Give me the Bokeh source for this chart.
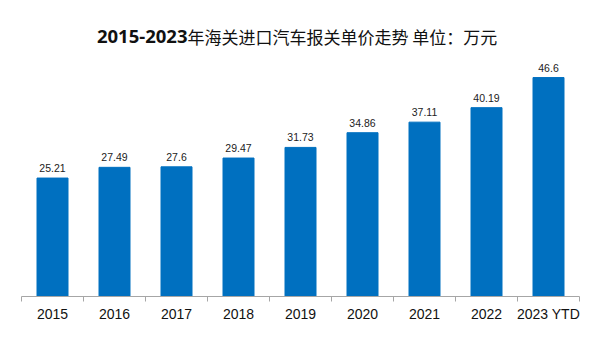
from bokeh.plotting import figure
from bokeh.models import Range1d, FixedTicker, Label, ColumnDataSource
from bokeh.core.properties import value
from bokeh.embed import file_html
from bokeh.resources import INLINE

years = ["2015", "2016", "2017", "2018", "2019", "2020", "2021", "2022", "2023 YTD"]
prices = [25.21, 27.49, 27.6, 29.47, 31.73, 34.86, 37.11, 40.19, 46.6]
price_labels = ["25.21", "27.49", "27.6", "29.47", "31.73", "34.86", "37.11", "40.19", "46.6"]
title_bold = "2015-2023"
title_rest = "年海关进口汽车报关单价走势  单位：万元"

xs = [i + 0.5 for i in range(len(years))]
src = ColumnDataSource(dict(x=xs, top=prices, lab=price_labels))

p = figure(width=600, height=347, output_backend="svg", toolbar_location=None,
           x_range=Range1d(0, len(years)), y_range=Range1d(0, 63),
           min_border_left=21, min_border_right=21, min_border_top=0, min_border_bottom=51)
p.outline_line_color = None
p.xgrid.visible = False
p.ygrid.visible = False
p.yaxis.visible = False
p.background_fill_color = "white"
p.border_fill_color = "white"

p.vbar(x="x", top="top", width=0.5, bottom=0, source=src, color="#0070C0")
p.text(x="x", y="top", text="lab", source=src, y_offset=-6, text_align="center",
       text_baseline="bottom", text_font=value("Liberation Sans"), text_font_size="10.5px",
       text_color="#222222")

ax = p.xaxis[0]
ax.ticker = FixedTicker(ticks=xs, minor_ticks=list(range(len(years) + 1)))
ax.major_label_overrides = {x: y for x, y in zip(xs, years)}
ax.major_tick_out = 0
ax.major_tick_in = 0
ax.minor_tick_out = 5
ax.minor_tick_in = 0
ax.minor_tick_line_color = "#A6A6A6"
ax.axis_line_color = "#A6A6A6"
ax.major_label_text_font = "Liberation Sans"
ax.major_label_text_font_size = "14px"
ax.major_label_text_color = "#111111"
ax.major_label_standoff = 4

split_x = (187 - 21) / 62
base_y = (296 - 35.5) / 4.7
p.add_layout(Label(x=split_x, y=base_y, text=title_bold, text_align="right",
                   text_baseline="alphabetic", text_font="Open Sans", text_font_style="bold",
                   text_font_size="18.5px", text_color="#111111"))
p.add_layout(Label(x=split_x, y=base_y, text=title_rest, text_align="left",
                   text_baseline="alphabetic", text_font="Noto Sans CJK SC",
                   text_font_size="17px", text_color="#111111"))

open("out.html", "w").write(file_html(p, INLINE))
